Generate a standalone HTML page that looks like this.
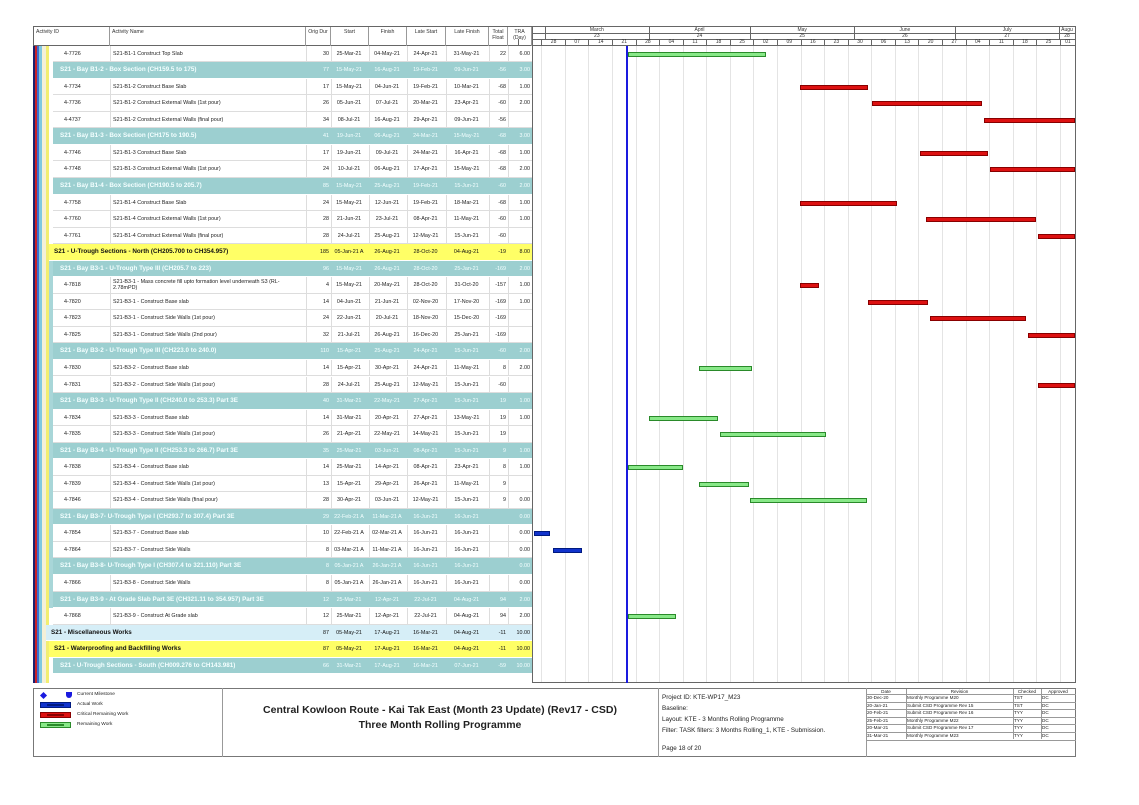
<!DOCTYPE html>
<html><head><meta charset="utf-8">
<style>
body{margin:0;width:1139px;height:805px;background:#fff;position:relative;overflow:hidden;font-family:"Liberation Sans",sans-serif;}
div{position:absolute;box-sizing:border-box;}
.t{white-space:nowrap;font-size:5.4px;color:#222;line-height:16.5px;}
.h{font-size:5.2px;color:#333;text-align:center;white-space:nowrap;}
</style></head><body>
<div id="root" style="left:0;top:0;width:1139px;height:805px;"></div>
<script>
const R=document.getElementById('root');
function el(css,txt,cls){const d=document.createElement('div');d.style.cssText=css;if(cls)d.className=cls;if(txt!==undefined)d.textContent=txt;R.appendChild(d);return d;}
const T0=45.7,RH=16.54;
const cols=[[110,306],[306,331],[331,369],[369,407],[407,446],[446,489],[489,508],[508,532]];
el('left:33px;top:26px;width:1043px;height:20px;border:1px solid #666;background:#fff;');
const hd=[[34,110,'Activity ID','left'],[110,306,'Activity Name','left'],[306,331,'Orig Dur'],[331,369,'Start'],[369,407,'Finish'],[407,446,'Late Start'],[446,489,'Late Finish'],[489,508,'Total<br>Float'],[508,532,'TRA<br>(Day)']];
hd.forEach(h=>{const d=el(`left:${h[0]}px;top:27px;width:${h[1]-h[0]}px;height:19px;border-right:1px solid #999;padding:2px 2px 0 2px;text-align:${h[3]||'center'}`,'' ,'h');d.innerHTML=h[2];});
const X0=541.3,D=3.367;
const months=[['March',544.7,649,'23'],['April',649,750,'24'],['May',750,854.4,'25'],['June',854.4,955.4,'26'],['July',955.4,1059,'27'],['Augu',1059,1075,'28']];
el('left:533px;top:33px;width:542px;height:1px;background:#666;');
el('left:533px;top:39px;width:542px;height:1px;background:#666;');
months.forEach(m=>{
 el(`left:${m[1]}px;top:27px;width:${m[2]-m[1]}px;height:12px;border-left:1px solid #666;`);
 el(`left:${m[1]}px;top:27px;width:${m[2]-m[1]}px;font-size:5px;line-height:6px;`,m[0],'h');
 el(`left:${m[1]}px;top:33px;width:${m[2]-m[1]}px;font-size:5px;line-height:6px;`,m[3],'h');
});
const wk=['28','07','14','21','28','04','11','18','25','02','09','16','23','30','06','13','20','27','04','11','18','25','01'];
wk.forEach((w,i)=>{const x=X0+i*7*D;const wd=Math.min(7*D,1075-x);
 el(`left:${x}px;top:39px;width:${wd}px;height:7px;border-left:1px solid #666;font-size:5px;line-height:7px;`,w,'h');
 el(`left:${x}px;top:46px;width:1px;height:637px;background:#e4e4e4;`);
});
el(`left:${X0-7*D}px;top:39px;width:1px;height:7px;background:#666;`);
const rows=[
['r','4-7726','S21-B1-1 Construct Top Slab','30','25-Mar-21','04-May-21','24-Apr-21','31-May-21','22','6.00',['g',628,766]],
['b','S21 - Bay B1-2 - Box Section (CH159.5 to 175)','77','15-May-21','16-Aug-21','19-Feb-21','09-Jun-21','-56','3.00'],
['r','4-7734','S21-B1-2 Construct Base Slab','17','15-May-21','04-Jun-21','19-Feb-21','10-Mar-21','-68','1.00',['r',800,868]],
['r','4-7736','S21-B1-2 Construct External Walls (1st pour)','26','05-Jun-21','07-Jul-21','20-Mar-21','23-Apr-21','-60','2.00',['r',872,982]],
['r','4-4737','S21-B1-2 Construct External Walls (final pour)','34','08-Jul-21','16-Aug-21','29-Apr-21','09-Jun-21','-56','',['r',984,1075]],
['b','S21 - Bay B1-3 - Box Section (CH175 to 190.5)','41','19-Jun-21','06-Aug-21','24-Mar-21','15-May-21','-68','3.00'],
['r','4-7746','S21-B1-3 Construct Base Slab','17','19-Jun-21','09-Jul-21','24-Mar-21','16-Apr-21','-68','1.00',['r',920,988]],
['r','4-7748','S21-B1-3 Construct External Walls (1st pour)','24','10-Jul-21','06-Aug-21','17-Apr-21','15-May-21','-68','2.00',['r',990,1075]],
['b','S21 - Bay B1-4 - Box Section (CH190.5 to 205.7)','85','15-May-21','25-Aug-21','19-Feb-21','15-Jun-21','-60','2.00'],
['r','4-7758','S21-B1-4 Construct Base Slab','24','15-May-21','12-Jun-21','19-Feb-21','18-Mar-21','-68','1.00',['r',800,897]],
['r','4-7760','S21-B1-4 Construct External Walls (1st pour)','28','21-Jun-21','23-Jul-21','08-Apr-21','11-May-21','-60','1.00',['r',926,1036]],
['r','4-7761','S21-B1-4 Construct External Walls (final pour)','28','24-Jul-21','25-Aug-21','12-May-21','15-Jun-21','-60','',['r',1038,1075]],
['y','S21 - U-Trough Sections - North (CH205.700 to CH354.957)','185','05-Jan-21 A','26-Aug-21','28-Oct-20','04-Aug-21','-19','8.00'],
['b','S21 - Bay B3-1 - U-Trough Type III (CH205.7 to 223)','96','15-May-21','26-Aug-21','28-Oct-20','25-Jan-21','-169','2.00'],
['r','4-7818','S21-B3-1 - Mass concrete fill upto formation level underneath S3 (RL-2.78mPD)','4','15-May-21','20-May-21','28-Oct-20','31-Oct-20','-157','1.00',['r',800,819]],
['r','4-7820','S21-B3-1 - Construct Base slab','14','04-Jun-21','21-Jun-21','02-Nov-20','17-Nov-20','-169','1.00',['r',868,928]],
['r','4-7823','S21-B3-1 - Construct Side Walls (1st pour)','24','22-Jun-21','20-Jul-21','18-Nov-20','15-Dec-20','-169','',['r',930,1026]],
['r','4-7825','S21-B3-1 - Construct Side Walls (2nd pour)','32','21-Jul-21','26-Aug-21','16-Dec-20','25-Jan-21','-169','',['r',1028,1075]],
['b','S21 - Bay B3-2 - U-Trough  Type III (CH223.0 to 240.0)','110','15-Apr-21','25-Aug-21','24-Apr-21','15-Jun-21','-60','2.00'],
['r','4-7830','S21-B3-2 - Construct Base slab','14','15-Apr-21','30-Apr-21','24-Apr-21','11-May-21','8','2.00',['g',699,752]],
['r','4-7831','S21-B3-2 - Construct Side Walls (1st pour)','28','24-Jul-21','25-Aug-21','12-May-21','15-Jun-21','-60','',['r',1038,1075]],
['b','S21 - Bay B3-3 - U-Trough  Type II (CH240.0 to 253.3) Part 3E','40','31-Mar-21','22-May-21','27-Apr-21','15-Jun-21','19','1.00'],
['r','4-7834','S21-B3-3 -  Construct Base slab','14','31-Mar-21','20-Apr-21','27-Apr-21','13-May-21','19','1.00',['g',649,718]],
['r','4-7835','S21-B3-3 - Construct Side Walls (1st pour)','26','21-Apr-21','22-May-21','14-May-21','15-Jun-21','19','',['g',720,826]],
['b','S21 - Bay B3-4 - U-Trough  Type II (CH253.3 to 266.7) Part 3E','35','25-Mar-21','03-Jun-21','08-Apr-21','15-Jun-21','9','1.00'],
['r','4-7838','S21-B3-4 - Construct Base slab','14','25-Mar-21','14-Apr-21','08-Apr-21','23-Apr-21','8','1.00',['g',628,683]],
['r','4-7839','S21-B3-4 - Construct Side Walls (1st pour)','13','15-Apr-21','29-Apr-21','26-Apr-21','11-May-21','9','',['g',699,749]],
['r','4-7846','S21-B3-4 - Construct Side Walls (final pour)','28','30-Apr-21','03-Jun-21','12-May-21','15-Jun-21','9','0.00',['g',750,867]],
['b','S21 - Bay B3-7- U-Trough  Type I (CH293.7 to 307.4) Part 3E','29','22-Feb-21 A','11-Mar-21 A','16-Jun-21','16-Jun-21','','0.00'],
['r','4-7854','S21-B3-7 - Construct Base slab','10','22-Feb-21 A','02-Mar-21 A','16-Jun-21','16-Jun-21','','0.00',['u',534,550]],
['r','4-7864','S21-B3-7 - Construct Side Walls','8','03-Mar-21 A','11-Mar-21 A','16-Jun-21','16-Jun-21','','0.00',['u',553,582]],
['b','S21 - Bay B3-8- U-Trough  Type I (CH307.4 to 321.110) Part 3E','8','05-Jan-21 A','26-Jan-21 A','16-Jun-21','16-Jun-21','','0.00'],
['r','4-7866','S21-B3-8 - Construct Side Walls','8','05-Jan-21 A','26-Jan-21 A','16-Jun-21','16-Jun-21','','0.00'],
['b','S21 - Bay B3-9 - At Grade Slab Part 3E (CH321.11 to 354.957) Part 3E','12','25-Mar-21','12-Apr-21','22-Jul-21','04-Aug-21','94','2.00'],
['r','4-7868','S21-B3-9 - Construct At Grade slab','12','25-Mar-21','12-Apr-21','22-Jul-21','04-Aug-21','94','2.00',['g',628,676]],
['m','S21 - Miscellaneous Works','87','05-May-21','17-Aug-21','16-Mar-21','04-Aug-21','-11','10.00'],
['y','S21 - Waterproofing and Backfilling Works','87','05-May-21','17-Aug-21','16-Mar-21','04-Aug-21','-11','10.00'],
['b','S21 - U-Trough Sections - South (CH009.276 to CH143.981)','66','31-Mar-21','17-Aug-21','16-Mar-21','07-Jun-21','-59','10.00']
];
const stripes=[[33,2,'#1a1f6e'],[35,2,'#c8202a'],[37,2,'#3a6fd0'],[39,3,'#7fc8e0'],[42,4,'#f4f0d8'],[46,3,'#f2ee70']];
stripes.forEach(s=>el(`left:${s[0]}px;top:46px;width:${s[1]}px;height:637px;background:${s[2]};`));
el(`left:49px;top:${T0+12*RH}px;width:4px;height:${RH*22}px;background:#a8d6d8;`);
el(`left:49px;top:${T0+35*RH}px;width:4px;height:${RH}px;background:#d4eef6;`);
const BC={b:'#9ccfd0',y:'#ffff66',m:'#d6eef7'};
function vals(vs,y,fc){
 for(let k=1;k<8;k++){const v=vs[k-1];const a=cols[k][0],b=cols[k][1];
  const right=(k===1||k>=6);
  el(`left:${a}px;top:${y}px;width:${b-a-2}px;text-align:${right?'right':'center'};color:${fc};`,v,'t');}
}
rows.forEach((r,i)=>{
 const y=T0+i*RH;
 if(r[0]==='r'){
  el(`left:53px;top:${y}px;width:480px;height:${RH}px;background:#fff;border-bottom:1px solid #ddd;`);
  [110,306,331,369,407,446,489,508].forEach(x=>el(`left:${x}px;top:${y}px;width:1px;height:${RH}px;background:#ddd;`));
  el(`left:64px;top:${y}px;`,r[1],'t');
  if(r[2].length>70){el(`left:113px;top:${y+2}px;width:190px;line-height:6px;white-space:normal;`,r[2],'t');}
  else el(`left:113px;top:${y}px;`,r[2],'t');
  vals(r.slice(3,10),y,'#222');
  const bar=r[10];
  if(bar){const c={g:['#88e888','#2a8a2a'],r:['#dd1111','#880000'],u:['#1133cc','#001a80']}[bar[0]];
   el(`left:${bar[1]}px;top:${y+6}px;width:${bar[2]-bar[1]}px;height:5px;background:${c[0]};border:1px solid ${c[1]};`);}
 } else {
  const lx=r[0]==='b'?53:(r[0]==='y'?49:46);
  el(`left:${lx}px;top:${y}px;width:${533-lx}px;height:${RH}px;background:${BC[r[0]]};border-bottom:1px solid #fff;`);
  const fc=r[0]==='b'?'#f4ffff':'#111';
  el(`left:${lx+(r[0]==='b'?7:5)}px;top:${y}px;font-weight:bold;font-size:6.3px;color:${fc};`,r[1],'t');
  vals(r.slice(2,9),y,fc);
 }
});
el('left:532px;top:26px;width:1px;height:657px;background:#666;');
el('left:1075px;top:26px;width:1px;height:657px;background:#666;');
el('left:533px;top:682px;width:543px;height:1px;background:#666;');
el('left:626px;top:46px;width:2px;height:637px;background:#1a1adf;');
el('left:33px;top:688px;width:1043px;height:69px;border:1px solid #777;');
[222,658,866].forEach(x=>el(`left:${x}px;top:688px;width:1px;height:69px;background:#999;`));
el('left:41px;top:693px;width:5px;height:5px;background:#1a1adf;transform:rotate(45deg);');
el('left:66px;top:692px;width:6px;height:6px;background:#1a1adf;border-radius:0 0 3px 3px;');
el('left:77px;top:691px;font-size:4.8px;line-height:7px;','Current Milestone','t');
const lg=[['#1133cc','#001a80','Actual Work'],['#dd1111','#880000','Critical Remaining Work'],['#88e888','#2a8a2a','Remaining Work']];
lg.forEach((l,i)=>{const y=702+i*10;
 el(`left:40px;top:${y}px;width:31px;height:6px;background:${l[0]};border:1px solid ${l[1]};`);
 el(`left:47px;top:${y+2}px;width:17px;height:2px;background:${l[1]};`);
 el(`left:77px;top:${y-1}px;font-size:4.8px;line-height:8px;`,l[2],'t');});
el('left:222px;top:703px;width:436px;text-align:center;font-weight:bold;font-size:10.5px;color:#222;line-height:14px;white-space:nowrap;','Central Kowloon Route - Kai Tak East (Month 23 Update) (Rev17 - CSD)');
el('left:222px;top:718px;width:436px;text-align:center;font-weight:bold;font-size:10.5px;color:#222;line-height:14px;white-space:nowrap;','Three Month Rolling Programme');
['Project ID: KTE-WP17_M23','Baseline:','Layout: KTE - 3 Months Rolling Programme','Filter: TASK filters: 3 Months Rolling_1, KTE - Submission.'].forEach((s,i)=>el(`left:662px;top:${693+i*11}px;font-size:6.3px;line-height:10px;`,s,'t'));
el('left:662px;top:744px;font-size:6.3px;line-height:10px;','Page 18 of 20','t');
const rc=[866,906,1013,1041,1075];
const rv=[['Date','Revision','Checked','Approved'],['30-Dec-20','Monthly Programme M20','TST','DC'],['20-Jan-21','Submit CSD Programme Rev 15','TST','DC'],['20-Feb-21','Submit CSD Programme Rev 16','TYY','DC'],['25-Feb-21','Monthly Programme M22','TYY','DC'],['20-Mar-21','Submit CSD Programme Rev 17','TYY','DC'],['31-Mar-21','Monthly Programme M23','TYY','DC']];
rv.forEach((r,i)=>{const y=689+(i===0?0:5+(i-1)*7.6);const h=i===0?5:7.6;
 el(`left:866px;top:${y+h}px;width:210px;height:1px;background:#999;`);
 for(let k=0;k<4;k++){el(`left:${rc[k]+1}px;top:${y}px;width:${rc[k+1]-rc[k]-2}px;font-size:4.6px;line-height:${h}px;${i===0?'text-align:center;':''}`,r[k],'t');}
});
[906,1013,1041].forEach(x=>el(`left:${x}px;top:689px;width:1px;height:50px;background:#999;`));
</script>
</body></html>
